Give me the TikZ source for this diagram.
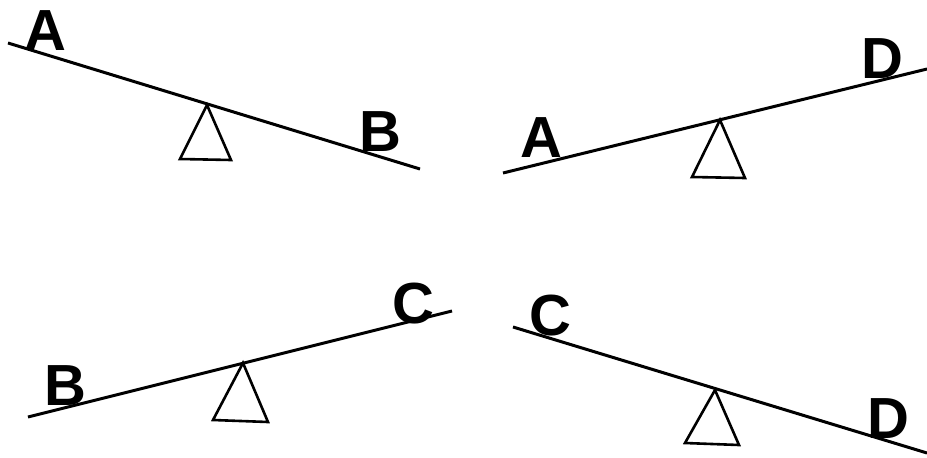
\documentclass[tikz,border=0pt]{standalone}
\usepackage{fontspec}
\setmainfont{Liberation Sans}
\usetikzlibrary{calc,positioning}

\begin{document}
\begin{tikzpicture}[x=1pt,y=-1pt]
  \tikzset{
    beam/.style={line width=3pt},
    pivot/.style={line width=2.6pt, line join=miter},
    lbl/.style={inner sep=0pt, font=\fontsize{58}{58}\selectfont\bfseries},
  }
  \useasboundingbox (0,0) rectangle (927,458);

  % top left: A down, B up
  \coordinate (l1) at (8,43);
  \coordinate (r1) at (420,169);
  \coordinate (p1) at (207,105);
  \draw[beam] (l1) -- (r1);
  \draw[pivot] (p1) -- ($(p1)+(-27,54)$) -- ($(p1)+(24,55)$) -- cycle;
  \node[lbl] (a1) at (45,31) {A};
  \node[lbl] (b1) at (380,132) {B};

  % top right
  \coordinate (l2) at (503,173);
  \coordinate (r2) at (927,69);
  \coordinate (p2) at (720,120);
  \draw[beam] (l2) -- (r2);
  \draw[pivot] (p2) -- ($(p2)+(-28,57)$) -- ($(p2)+(25,58)$) -- cycle;
  \node[lbl] (a2) at (541,138) {A};
  \node[lbl] (d2) at (882,59) {D};

  % bottom left
  \coordinate (l3) at (28,417);
  \coordinate (r3) at (452,311);
  \coordinate (p3) at (243,363);
  \draw[beam] (l3) -- (r3);
  \draw[pivot] (p3) -- ($(p3)+(-30,57)$) -- ($(p3)+(25,59)$) -- cycle;
  \node[lbl] (b3) at (65,386) {B};
  \node[lbl] (c3) at (413,304) {C};

  % bottom right
  \coordinate (l4) at (513,327);
  \coordinate (r4) at (927,453);
  \coordinate (p4) at (715,390);
  \draw[beam] (l4) -- (r4);
  \draw[pivot] (p4) -- ($(p4)+(-30,53)$) -- ($(p4)+(24,55)$) -- cycle;
  \node[lbl] (c4) at (550,316) {C};
  \node[lbl] (d4) at (888,419) {D};
\end{tikzpicture}
\end{document}
